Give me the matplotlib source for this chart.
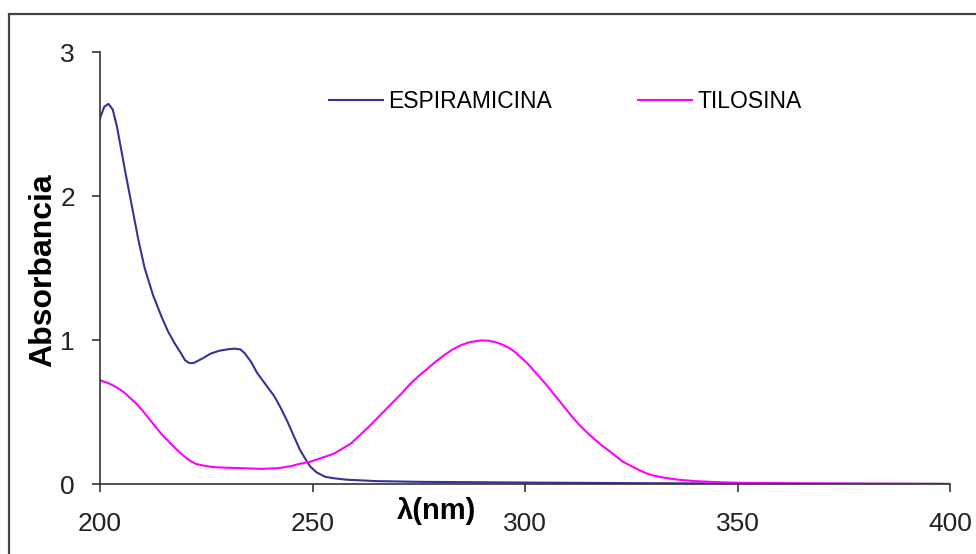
"""UV absorption spectra of espiramicina and tilosina (200-400 nm)."""
import matplotlib
matplotlib.use("Agg")
import matplotlib.pyplot as plt
from matplotlib.patches import Rectangle

plt.rcParams["font.family"] = ["Liberation Sans", "DejaVu Sans"]

# wavelength (nm) / absorbance pairs
espiramicina_nm = [200, 201, 202, 203, 204, 205, 206, 207.5, 209, 210.5, 212.5,
                   214.5, 216, 217.5, 219, 220, 221, 222, 223, 224, 226, 228,
                   230, 231.5, 233, 234, 235.5, 237, 239, 241, 242.5, 244,
                   245.5, 247, 248.5, 249.5, 251, 253, 255, 258, 265, 275, 300,
                   325, 350, 375, 400]
espiramicina_abs = [2.54, 2.62, 2.64, 2.60, 2.48, 2.32, 2.16, 1.93, 1.70, 1.50,
                    1.31, 1.16, 1.06, 0.98, 0.91, 0.86, 0.84, 0.84, 0.855, 0.87,
                    0.905, 0.925, 0.935, 0.94, 0.935, 0.91, 0.85, 0.77, 0.69,
                    0.61, 0.53, 0.44, 0.34, 0.24, 0.165, 0.12, 0.08, 0.05, 0.04,
                    0.03, 0.02, 0.015, 0.01, 0.006, 0.003, 0.002, 0.001]

tilosina_nm = [200, 202, 204, 205.5, 207, 208.5, 210, 211.5, 213, 214.5, 216,
               217, 218, 219.5, 221, 222.5, 224, 226, 228, 233, 238, 242, 245,
               247, 249.5, 252, 255, 257, 259, 261, 263, 265, 267, 269, 271,
               273, 275, 277, 279, 281, 283, 285, 287, 289.5, 291.5, 293, 294.5,
               296, 297.5, 299, 300.5, 302, 303.5, 305, 306.5, 308, 309.5, 311,
               312.5, 314.5, 316, 318, 320, 321.5, 323, 325, 327, 328.5, 330,
               332, 334, 336, 340, 345, 350, 360, 380, 400]
tilosina_abs = [0.72, 0.70, 0.67, 0.64, 0.60, 0.56, 0.51, 0.455, 0.40, 0.345,
                0.30, 0.27, 0.24, 0.20, 0.165, 0.14, 0.13, 0.12, 0.115, 0.11,
                0.105, 0.11, 0.125, 0.14, 0.155, 0.18, 0.21, 0.245, 0.28, 0.335,
                0.39, 0.45, 0.51, 0.57, 0.63, 0.695, 0.75, 0.80, 0.85, 0.895,
                0.935, 0.965, 0.985, 0.997, 0.995, 0.985, 0.97, 0.95, 0.92,
                0.88, 0.84, 0.79, 0.74, 0.69, 0.635, 0.58, 0.525, 0.47, 0.42,
                0.36, 0.32, 0.27, 0.225, 0.19, 0.155, 0.125, 0.095, 0.075,
                0.06, 0.048, 0.038, 0.03, 0.02, 0.013, 0.009, 0.005, 0.002, 0.0]

x_ticks = [200, 250, 300, 350, 400]
y_ticks = [0, 1, 2, 3]

W, H = 976, 554
fig = plt.figure(figsize=(W / 100, H / 100), dpi=100)

# outer chart frame (runs off the right and bottom edges)
fig.patches.append(Rectangle((9 / W, -0.1), 1.2, (H - 14) / H + 0.1,
                             transform=fig.transFigure, fill=False,
                             edgecolor="#444444", lw=1.6))

ax = fig.add_axes([100 / W, 1 - 484 / H, 850 / W, 432 / H])
ax.plot(espiramicina_nm, espiramicina_abs, color="#333399", lw=1.5,
        label="ESPIRAMICINA", solid_joinstyle="round")
ax.plot(tilosina_nm, tilosina_abs, color="#FF00FF", lw=1.5, label="TILOSINA",
        solid_joinstyle="round")

ax.set_xlim(200, 400)
ax.set_ylim(0, 3)
ax.set_xticks(x_ticks)
ax.set_yticks(y_ticks)
for side in ("top", "right"):
    ax.spines[side].set_visible(False)
for side in ("left", "bottom"):
    ax.spines[side].set_color("#333333")
    ax.spines[side].set_linewidth(1.2)
ax.tick_params(axis="both", direction="out", length=6, width=1.2,
               color="#333333", labelsize=19, labelcolor="#222222")
ax.tick_params(axis="x", pad=14)
ax.tick_params(axis="y", pad=12)

ax.set_ylabel("Absorbancia", fontsize=23, fontweight="bold")
ax.yaxis.label.set_va("center")
ax.yaxis.set_label_coords((43 - 100) / 850, (484 - 270) / 432)
ax.set_xlabel("λ(nm)", fontsize=21, fontweight="bold")
ax.xaxis.label.set_va("center")
ax.xaxis.set_label_coords((437 - 100) / 850, (484 - 511) / 432)

ax.legend(loc="center left", bbox_to_anchor=(329 / W, 1 - 102 / H),
          bbox_transform=fig.transFigure, ncol=2, frameon=False,
          fontsize=16.5, handlelength=2.35, handletextpad=0.25,
          columnspacing=3.75, borderpad=0, borderaxespad=0)

fig.savefig("out.png", dpi=100)
